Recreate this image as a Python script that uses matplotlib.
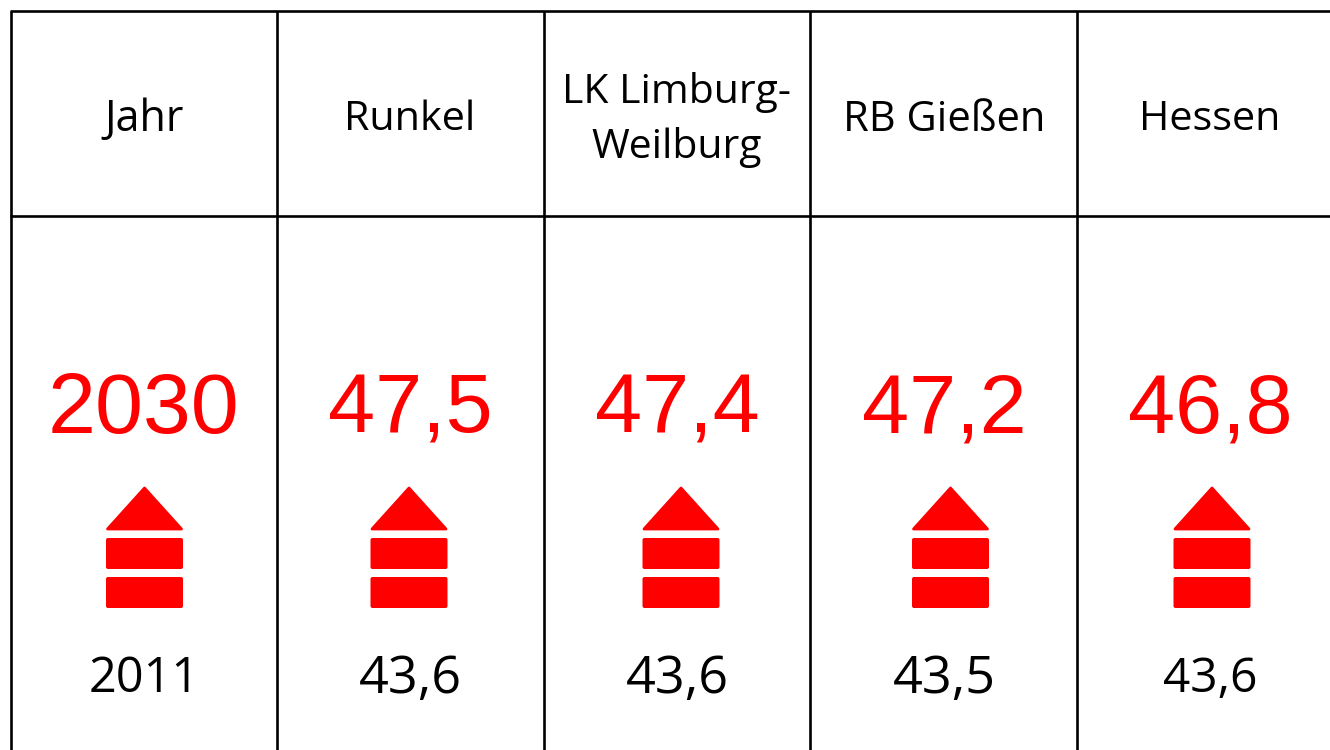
import matplotlib
matplotlib.use('Agg')
import matplotlib.pyplot as plt
from matplotlib.patches import Polygon, FancyBboxPatch

headers = ['Jahr', 'Runkel', 'LK Limburg-\nWeilburg', 'RB Gießen', 'Hessen']
top_values = ['2030', '47,5', '47,4', '47,2', '46,8']
base_values = ['2011', '43,6', '43,6', '43,5', '43,6']

# pixel layout of the table
col_lines = [11, 276.6, 543.6, 810, 1076.6, 1330]
row_lines = [11, 216, 750]
text_x = [144, 410, 677, 944, 1210]
arrow_x = [144.5, 409, 681, 950.5, 1212]
header_y = [120, 120, 120, 120, 120]
header_size = [31, 29.8, 29.4, 30, 29.7]
top_size = [62, 60.8, 60.8, 60.8, 60.8]
base_size = [35, 37.5, 37.5, 37.5, 34.5]

RED = '#ff0000'
SANS = 'Open Sans'

fig = plt.figure(figsize=(13.3, 7.5), dpi=100)
ax = fig.add_axes([0, 0, 1, 1])
ax.set_xlim(0, 1330)
ax.set_ylim(750, 0)
ax.axis('off')

for x in col_lines[:-1]:
    ax.plot([x, x], [row_lines[0], row_lines[-1]], color='black', lw=1.9, solid_capstyle='butt')
for y in row_lines[:-1]:
    ax.plot([col_lines[0] - 1, col_lines[-1]], [y, y], color='black', lw=1.9, solid_capstyle='butt')

for i in range(len(headers)):
    ax.text(text_x[i], header_y[i], headers[i], ha='center', va='center', fontsize=header_size[i],
            family=SANS, linespacing=1.46, color='black')
    ax.text(text_x[i], 410.5, top_values[i], ha='center', va='center', fontsize=top_size[i],
            family='Liberation Sans', color=RED)
    ax.text(text_x[i], 679, base_values[i], ha='center', va='center', fontsize=base_size[i],
            family=SANS, color='black')

    # up arrow: triangle and two bars
    cx = arrow_x[i]
    ax.add_patch(Polygon([[cx - 37, 529], [cx, 488], [cx + 37, 529]], closed=True,
                         fc=RED, ec=RED, lw=2, joinstyle='round'))
    for top in [538, 577]:
        ax.add_patch(FancyBboxPatch((cx - 36.5, top + 2), 73, 27,
                                    boxstyle='round,pad=2,rounding_size=2',
                                    fc=RED, ec='none', mutation_aspect=1))

fig.savefig('out.png', dpi=100, facecolor='white')
